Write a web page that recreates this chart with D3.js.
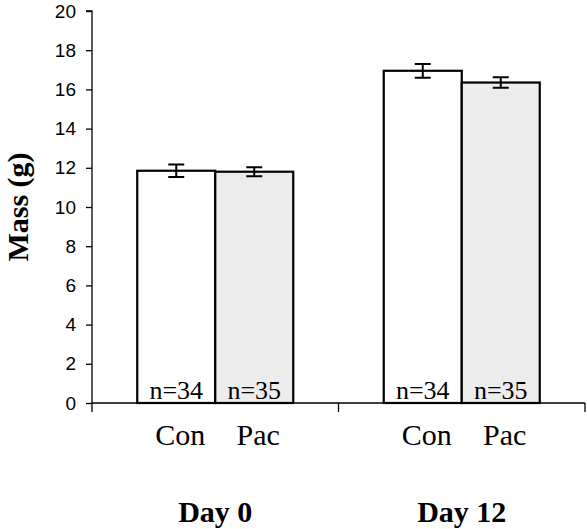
<!DOCTYPE html>
<html>
<head>
<meta charset="utf-8">
<title>mass</title>
<style>
  body { margin: 0; background: #fff; }
  text { fill: #000; }
</style>
</head>
<body>
<svg class="chart"></svg>
<script src="https://cdn.jsdelivr.net/npm/d3@7"></script>
<script>
var days = ["Day 0", "Day 12"];
var groups = ["Con", "Pac"];
var means = [[11.85, 11.8], [16.95, 16.35]];
var errors = [[0.32, 0.23], [0.35, 0.27]];
var counts = [["n=34", "n=35"], ["n=34", "n=35"]];
var yTicks = [0, 2, 4, 6, 8, 10, 12, 14, 16, 18, 20];

var width = 587, height = 529;
var plotLeft = 92, plotRight = 585, plotTop = 11, plotBottom = 403;

var svg = d3.select(".chart")
    .attr("width", width)
    .attr("height", height);

var x = d3.scaleBand()
    .domain(days)
    .range([plotLeft, plotRight]);

var xInner = d3.scaleBand()
    .domain(groups)
    .range([0, x.bandwidth()])
    .paddingOuter(0.58);

var y = d3.scaleLinear()
    .domain([0, 20])
    .range([plotBottom, plotTop]);

// y axis
var yAxis = svg.append("g")
    .attr("transform", "translate(" + plotLeft + ",0)")
    .call(d3.axisLeft(y).tickValues(yTicks).tickSize(6).tickPadding(10));
yAxis.select(".domain").attr("d", "M-6," + plotTop + "H0V" + (plotBottom + 9)).attr("stroke-width", 1.3);
yAxis.selectAll(".tick line").attr("stroke-width", 1.3);
yAxis.selectAll("text")
    .style("font-family", "Liberation Sans, Arial, sans-serif")
    .style("font-size", "19px")
    .attr("fill", "#000");

var data = [];
days.forEach(function(d, i) {
    groups.forEach(function(g, j) {
        data.push({ day: d, group: g, mean: means[i][j], err: errors[i][j], n: counts[i][j] });
    });
});

var bars = svg.selectAll("g.bar")
    .data(data)
    .enter()
    .append("g")
    .attr("class", "bar")
    .attr("transform", function(d) {
        return "translate(" + (x(d.day) + xInner(d.group)) + ",0)";
    });

bars.append("rect")
    .attr("x", 0)
    .attr("width", xInner.bandwidth())
    .attr("y", function(d) { return y(d.mean); })
    .attr("height", function(d) { return y(0) - y(d.mean); })
    .attr("fill", function(d) { return d.group == "Pac" ? "#ececec" : "#fff"; })
    .attr("stroke", "#000")
    .attr("stroke-width", 2.2);

// error bars
var bw = xInner.bandwidth();
bars.append("path")
    .attr("d", function(d) {
        var cx = bw / 2, t = y(d.mean + d.err), b = y(d.mean - d.err);
        return "M" + (cx - 8) + "," + t + "H" + (cx + 8) +
            "M" + cx + "," + t + "V" + b +
            "M" + (cx - 8) + "," + b + "H" + (cx + 8);
    })
    .attr("fill", "none")
    .attr("stroke", "#000")
    .attr("stroke-width", 2);

bars.append("text")
    .attr("x", bw / 2)
    .attr("y", plotBottom - 4)
    .attr("text-anchor", "middle")
    .style("font-family", "Liberation Serif, Times New Roman, serif")
    .style("font-size", "26px")
    .text(function(d) { return d.n; });

// group labels
bars.append("text")
    .attr("x", bw / 2 + 4)
    .attr("y", 445)
    .attr("text-anchor", "middle")
    .style("font-family", "Liberation Serif, Times New Roman, serif")
    .style("font-size", "30px")
    .text(function(d) { return d.group; });

// x axis
svg.append("line")
    .attr("x1", plotLeft).attr("x2", plotRight)
    .attr("y1", plotBottom).attr("y2", plotBottom)
    .attr("stroke", "#000").attr("stroke-width", 1.3);

svg.selectAll("line.xtick")
    .data(days)
    .enter()
    .append("line")
    .attr("class", "xtick")
    .attr("x1", function(d) { return x(d) + x.bandwidth(); })
    .attr("x2", function(d) { return x(d) + x.bandwidth(); })
    .attr("y1", plotBottom).attr("y2", plotBottom + 9)
    .attr("stroke", "#000").attr("stroke-width", 1.3);

svg.selectAll("text.day")
    .data(days)
    .enter()
    .append("text")
    .attr("class", "day")
    .attr("x", function(d) { return x(d) + x.bandwidth() / 2; })
    .attr("y", 522)
    .attr("text-anchor", "middle")
    .style("font-family", "Liberation Serif, Times New Roman, serif")
    .style("font-weight", "bold")
    .style("font-size", "30px")
    .text(function(d) { return d; });

svg.append("text")
    .attr("transform", "translate(28," + ((plotTop + plotBottom) / 2) + ") rotate(-90)")
    .attr("text-anchor", "middle")
    .style("font-family", "Liberation Serif, Times New Roman, serif")
    .style("font-weight", "bold")
    .style("font-size", "30px")
    .text("Mass (g)");
</script>
</body>
</html>
